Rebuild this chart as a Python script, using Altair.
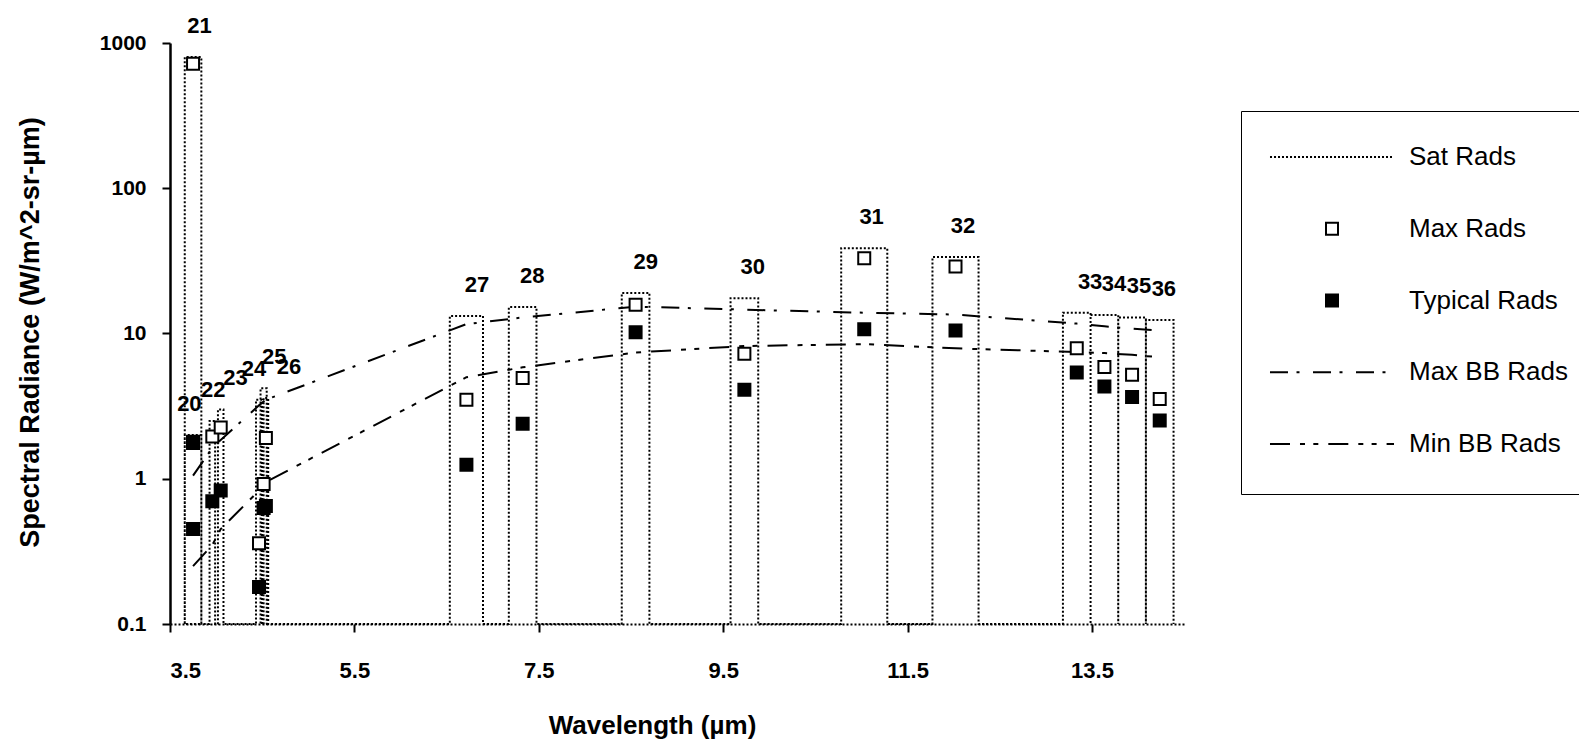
import altair as alt
import pandas as pd

# ---------------- data ----------------
bands = [20, 21, 22, 23, 24, 25, 26, 27, 28, 29, 30, 31, 32, 33, 34, 35, 36]
band_lo = [3.66, 3.66, 3.929, 4.02, 4.433, 4.482, 4.515, 6.535, 7.175, 8.40, 9.58,
           10.78, 11.77, 13.185, 13.485, 13.785, 14.085]
band_hi = [3.84, 3.84, 3.989, 4.08, 4.498, 4.549, 4.565, 6.895, 7.475, 8.70, 9.88,
           11.28, 12.27, 13.485, 13.785, 14.085, 14.385]
sat_rads = [2.0, 800, 2.5, 3.0, 3.5, 4.2, 3.6, 13.2, 15.2, 19.0, 17.5, 38.7, 33.6,
            13.9, 13.4, 12.9, 12.4]
max_rads = [1.8, 720, 1.95, 2.25, 0.36, 0.92, 1.91, 3.5, 4.93, 15.8, 7.25, 33.0, 28.9,
            7.9, 5.87, 5.2, 3.54]
typical_rads = [0.45, 1.76, 0.70, 0.83, 0.18, 0.63, 0.65, 1.25, 2.39, 10.2, 4.1, 10.7,
                10.5, 5.39, 4.32, 3.65, 2.52]
label_wl = [3.71, 3.82, 3.97, 4.21, 4.41, 4.63, 4.79, 6.83, 7.43, 8.66, 9.82, 11.11,
            12.10, 13.48, 13.74, 14.01, 14.28]

bb_bands = [20, 22, 23, 24, 25, 26, 27, 28, 29, 30, 31, 32, 33, 34, 35, 36]
max_bb = [1.05, 1.63, 1.85, 3.2, 3.4, 3.5, 11.6, 12.9, 15.3, 14.6, 13.9, 13.5, 11.7,
          11.2, 10.8, 10.5]
min_bb = [0.25, 0.35, 0.45, 0.83, 0.91, 0.95, 5.0, 5.85, 7.4, 8.2, 8.45, 7.9, 7.45,
          7.33, 7.13, 6.86]

x_ticks = [3.5, 5.5, 7.5, 9.5, 11.5, 13.5]
y_ticks = [0.1, 1, 10, 100, 1000]
series_names = ["Sat Rads", "Max Rads", "Typical Rads", "Max BB Rads", "Min BB Rads"]

# ---------------- tables ----------------
center = {b: (lo + hi) / 2 for b, lo, hi in zip(bands, band_lo, band_hi)}

sat_rows = []
k = 0
for b, lo, hi, s in zip(bands, band_lo, band_hi, sat_rads):
    for xx, yy in [(lo, 0.1), (lo, s), (hi, s), (hi, 0.1)]:
        sat_rows.append({"wl": xx, "val": yy, "idx": k})
        k += 1
sat_df = pd.DataFrame(sat_rows)

pt_rows = []
for b, m in zip(bands, max_rads):
    pt_rows.append({"wl": center[b], "val": m, "series": "Max Rads", "ord": 0})
for b, t in zip(bands, typical_rads):
    pt_rows.append({"wl": center[b], "val": t, "series": "Typical Rads", "ord": 1})
pt_df = pd.DataFrame(pt_rows)

maxbb_df = pd.DataFrame({"wl": [center[b] for b in bb_bands], "val": max_bb})
minbb_df = pd.DataFrame({"wl": [center[b] for b in bb_bands], "val": min_bb})

lab_df = pd.DataFrame({"wl": label_wl, "val": sat_rads, "band": [str(b) for b in bands]})

# ---------------- legend symbol paths ----------------
UNIT = 30.0  # symbol size 3600 -> sqrt/2 = 30 px per path unit


def dash_path(pattern, total=124.0):
    segs = []
    x = -total / 2
    i = 0
    while x < total / 2 - 0.01:
        step = pattern[i % len(pattern)]
        if i % 2 == 0:
            w = min(step, total / 2 - x)
            segs.append(f"M{x / UNIT:.3f},0h{w / UNIT:.3f}")
        x += step
        i += 1
    return "".join(segs)


sat_dash = [2, 2]
maxbb_dash = [18, 8.5, 3, 13.5]
minbb_dash = [20, 10, 5, 8.3, 5, 10]
h = 6.0 / UNIT
square = f"M{-h:.3f},{-h:.3f}H{h:.3f}V{h:.3f}H{-h:.3f}Z"
symbol_paths = [dash_path(sat_dash), square, square, dash_path(maxbb_dash), dash_path(minbb_dash)]
symbol_fills = ["transparent", "white", "black", "transparent", "transparent"]
symbol_strokes = ["black"] * 5

# ---------------- chart ----------------
W, H = 1016, 581
xs = alt.Scale(domain=[3.5, 14.52], nice=False, zero=False)
ys = alt.Scale(type="log", domain=[0.1, 1000], nice=False)

x_axis = alt.Axis(
    values=x_ticks, format=".1f", title="Wavelength (µm)",
    grid=False, domainDash=[2, 2], domainWidth=2, domainColor="black",
    tickSize=8, tickWidth=2, tickColor="black",
    labelPadding=28, labelFontSize=22, labelFont="Liberation Sans",
    labelFontWeight="bold", labelColor="black",
    titleX=482, titleY=101, titleAlign="center", titleBaseline="middle",
    titleFontSize=26, titleFontWeight="bold", titleFont="Liberation Sans", titleColor="black",
)
y_axis = alt.Axis(
    values=y_ticks, format="~g", title="Spectral Radiance (W/m^2-sr-µm)",
    grid=False, domainWidth=2.5, domainColor="black",
    tickSize=8, tickWidth=2, tickColor="black",
    labelPadding=16, labelFontSize=21, labelFont="Liberation Sans",
    labelFontWeight="bold", labelColor="black",
    titleX=-140, titleY=289, titleAngle=270, titleAlign="center", titleBaseline="middle",
    titleFontSize=27, titleFontWeight="bold", titleFont="Liberation Sans", titleColor="black",
)


def xenc():
    return alt.X("wl:Q", scale=xs, axis=x_axis)


def yenc():
    return alt.Y("val:Q", scale=ys, axis=y_axis)


sat = alt.Chart(sat_df).mark_line(
    stroke="black", strokeWidth=2, strokeDash=sat_dash
).encode(x=xenc(), y=yenc(), order=alt.Order("idx:Q"))

maxbb_line = alt.Chart(maxbb_df).mark_line(
    stroke="black", strokeWidth=2, strokeDash=maxbb_dash
).encode(x=xenc(), y=yenc())

minbb_line = alt.Chart(minbb_df).mark_line(
    stroke="black", strokeWidth=2, strokeDash=minbb_dash
).encode(x=xenc(), y=yenc())

leg = alt.Legend(title=" ")
pts = alt.Chart(pt_df).mark_point(
    strokeWidth=2, size=3600, opacity=1
).encode(
    x=xenc(), y=yenc(),
    shape=alt.Shape("series:N", scale=alt.Scale(domain=series_names, range=symbol_paths),
                    legend=leg),
    fill=alt.Fill("series:N", scale=alt.Scale(domain=series_names, range=symbol_fills),
                  legend=leg),
    stroke=alt.Stroke("series:N", scale=alt.Scale(domain=series_names, range=symbol_strokes),
                      legend=leg),
    order=alt.Order("ord:Q"),
)

labels = alt.Chart(lab_df).mark_text(
    font="Liberation Sans", fontSize=22, fontWeight="bold", color="black",
    dy=-31, baseline="middle", align="center"
).encode(x=xenc(), y=yenc(), text="band:N")

chart = alt.layer(sat, maxbb_line, minbb_line, pts, labels).properties(
    width=W, height=H,
    autosize=alt.AutoSizeParams(type="none"),
    padding={"left": 170, "top": 43, "right": 393, "bottom": 117},
    background="white",
).configure_view(stroke=None).configure_legend(
    orient="none", legendX=1071, legendY=68, padding=15,
    strokeColor="black", fillColor="white",
    titleOrient="bottom", titleFontSize=10, titlePadding=12,
    symbolSize=3600, symbolStrokeWidth=2, symbolStrokeColor="black", symbolOpacity=1,
    rowPadding=27.75, symbolOffset=45, labelOffset=46,
    labelFont="Liberation Sans", labelFontSize=26, labelColor="black", labelLimit=400,
)

chart.save("out.html", embed_options={"renderer": "svg", "actions": False})
